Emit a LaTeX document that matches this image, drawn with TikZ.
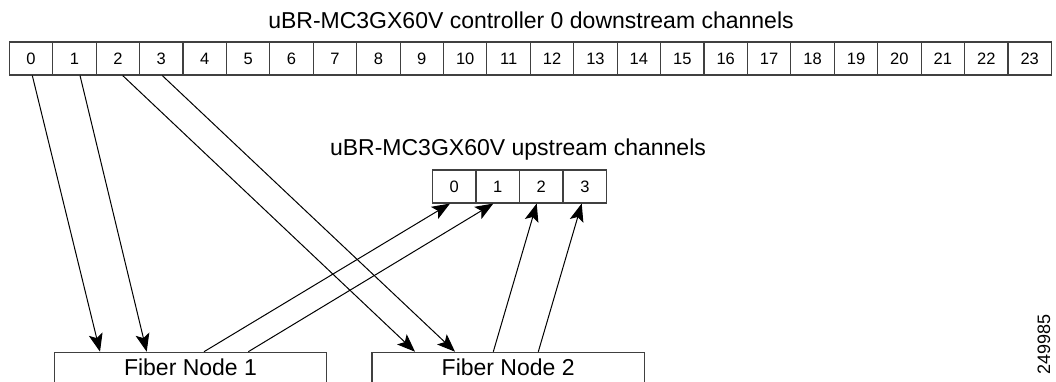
\documentclass[tikz,border=0pt]{standalone}
\usepackage{fontspec}
\setmainfont{Liberation Sans}
\usetikzlibrary{arrows.meta,calc}
\begin{document}
\begin{tikzpicture}[x=1pt,y=-1pt,
  chan/.style={draw=black!75, line width=1.1pt, minimum width=43.42pt, minimum height=33pt, inner sep=0pt, font=\fontsize{16.5}{18}\selectfont},
  ttl/.style={font=\fontsize{23}{26}\selectfont, anchor=base, inner sep=0pt},
  fnode/.style={draw=black!75, line width=1.1pt, anchor=north, minimum width=272.4pt, inner xsep=0pt, inner ysep=0pt, text height=23.3pt, text depth=25pt, font=\fontsize{23}{26}\selectfont},
  link/.style={line width=1pt, -{Stealth[length=18pt,width=14pt,inset=4pt]}},
  idlabel/.style={rotate=90, inner sep=0pt, font=\fontsize{18}{20}\selectfont},
]
\clip (0,0) rectangle (1056,381);
\fill[white] (0,0) rectangle (1056,381);
% downstream channels
\foreach \i in {0,...,23} \node[chan] (d\i) at ({9.3+43.42*\i+21.71},58.5) {\i};
\node[ttl] (dtitle) at (531,28) {uBR-MC3GX60V controller 0 downstream channels};
% upstream channels
\node[ttl] (utitle) at (518,155) {uBR-MC3GX60V upstream channels};
\foreach \i in {0,...,3} \node[chan] (u\i) at ({432.3+43.6*\i+21.8},186.5) {\i};
% fiber nodes
\node[fnode] (f1) at (190.5,351.7) {Fiber Node 1};
\node[fnode] (f2) at (508.2,351.7) {Fiber Node 2};
% downstream links
\draw[link] ([xshift=1.3pt]d0.south) -- ([xshift=-90.5pt]f1.north);
\draw[link] ([xshift=5.6pt]d1.south) -- ([xshift=-43.8pt]f1.north);
\draw[link] ([xshift=4.85pt]d2.south) -- ([xshift=-93.2pt]f2.north);
\draw[link] ([xshift=1.0pt]d3.south) -- ([xshift=-53.2pt]f2.north);
% upstream links
\draw[link] ([xshift=13.5pt]f1.north) -- ([xshift=-4.1pt]u0.south);
\draw[link] ([xshift=57.8pt]f1.north) -- ([xshift=-4.4pt]u1.south);
\draw[link] ([xshift=-14.9pt]f2.north) -- ([xshift=-4.6pt]u2.south);
\draw[link] ([xshift=30.1pt]f2.north) -- ([xshift=-3.2pt]u3.south);
\node[idlabel] (id) at (1044,344) {249985};
\end{tikzpicture}
\end{document}
